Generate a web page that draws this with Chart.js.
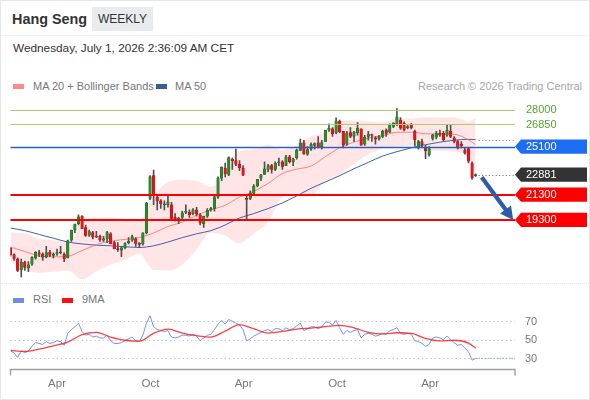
<!DOCTYPE html>
<html>
<head>
<meta charset="utf-8">
<script src="https://cdn.jsdelivr.net/npm/chart.js@4.4.1/dist/chart.umd.min.js"></script>
<style>
html,body{margin:0;padding:0;background:#fff;}
body{width:590px;height:400px;position:relative;overflow:hidden;font-family:"Liberation Sans",Arial,sans-serif;}
#frame{position:absolute;left:0;top:0;width:588px;height:398px;border:1px solid #e4e7ea;}
#hdrline{position:absolute;left:1px;top:35px;width:588px;height:0;border-top:1px solid #f1f2f4;}
#sep{position:absolute;left:1px;top:283px;width:588px;height:0;border-top:1px dotted #e6e6e6;}
#title{position:absolute;left:12px;top:12px;font-size:14.4px;line-height:14.4px;font-weight:bold;color:#333;}
#badge{position:absolute;left:92px;top:7px;width:61px;height:24px;background:#e9ebee;color:#333;font-size:12px;line-height:24px;text-align:center;}
#date{position:absolute;left:13px;top:43px;font-size:11.8px;line-height:11.8px;color:#333;}
.leg{position:absolute;font-size:11px;line-height:11px;color:#777;white-space:nowrap;}
.sw{position:absolute;width:11px;height:4.5px;}
canvas{position:absolute;left:0;}
</style>
</head>
<body>
<div id="frame"></div>
<div id="hdrline"></div>
<div id="sep"></div>
<div id="title">Hang Seng</div>
<div id="badge">WEEKLY</div>
<div id="date">Wednesday, July 1, 2026 2:36:09 AM CET</div>

<div class="sw" style="left:13px;top:84px;background:#ff8a8a;"></div>
<div class="leg" style="left:33px;top:81px;">MA 20 + Bollinger Bands</div>
<div class="sw" style="left:156px;top:84px;background:#3a5c9c;"></div>
<div class="leg" style="left:175px;top:81px;">MA 50</div>
<div class="leg" style="right:8px;top:81px;color:#a8a8a8;">Research © 2026 Trading Central</div>

<div class="sw" style="left:13px;top:298px;background:#6f8ee8;"></div>
<div class="leg" style="left:33px;top:294px;">RSI</div>
<div class="sw" style="left:62px;top:298px;background:#ff1010;"></div>
<div class="leg" style="left:82px;top:294px;">9MA</div>

<canvas id="main" width="590" height="300" style="top:0;"></canvas>
<canvas id="rsi" width="590" height="100" style="top:300px;"></canvas>

<script>
// ---- Weekly candles (week index 0 = week of 2024-01-01) ----
const OPEN = [17047,16560,16200,15350,15950,15500,15800,16300,16700,16600,
16400,16750,16500,16600,16700,16600,16300,17700,18500,19000,
19600,18700,18100,18300,17950,18000,17700,17800,18200,17500,
17000,16900,17100,17500,17700,17800,17400,17400,18300,21000,
22800,21100,20800,20500,20500,20500,19500,19200,19500,19900,
19900,19800,20100,19700,19000,19600,20100,20200,21100,22600,
23400,22900,24100,24000,23700,23400,21000,21000,21400,22000,
22600,22900,23300,23600,23300,23800,23900,23600,24300,23900,
24200,24800,25400,24500,24900,25200,25400,25100,25500,26400,
26500,26200,27100,26300,25300,26200,25900,26200,26500,25300,
25900,26000,25800,25700,25900,26400,26250,26700,26850,27200,
26950,26600,26800,26300,25000,25500,25000,24450,25750,25850,
26150,26150,26000,26300,25800,25500,25300,24850,24950,23800,
22800];
const HIGH = [17123,16620,16300,16200,16050,16000,16400,16800,16900,16700,
17200,16900,16700,17000,17200,16700,17700,18500,18970,19700,
19650,18900,18500,18400,18400,18100,18000,18400,18300,17600,
17500,17200,17500,17900,18100,17900,17500,18300,20700,22800,
23241,21200,20900,20800,21300,20700,19800,19500,20000,20500,
20100,20200,20300,19800,19600,20200,20300,21200,22700,23500,
23800,24300,24200,24900,24000,23600,21300,21600,22100,22500,
22900,23900,23700,23700,23900,24200,24000,24400,24400,24200,
24900,25700,25600,25100,25400,25400,25900,25600,26400,26900,
26600,27381,27200,26300,26300,26600,26300,27000,26500,26000,
26300,26100,25900,26000,26400,26500,26900,27000,28100,27400,
27050,26800,26950,26400,25600,25700,25200,25100,26100,26300,
26400,26300,26800,26850,25900,25600,25500,25000,25000,23900,
22950];
const LOW = [16440,16100,15200,14794,15300,15200,15700,16200,16400,16100,
16300,16400,16300,16500,16600,16000,16300,17600,18300,18900,
18600,18000,18000,17800,17900,17600,17600,17500,17400,17000,
16800,16400,17000,17400,17600,17200,17100,17300,18200,20900,
20500,20100,20200,20100,20300,19300,19200,19000,19400,19800,
19500,19700,19600,18900,18700,19500,20000,20000,21000,22400,
22700,22800,23300,23600,23200,22800,19260,20900,21300,21900,
22400,22900,23100,23000,23200,23600,23300,23600,23800,23600,
24100,24800,24500,24400,24800,24900,25000,24900,25500,26300,
25900,26100,26200,25000,25200,25800,25500,26000,25200,25200,
25600,25500,25300,25600,25800,25900,26200,26600,26750,26450,
26350,26500,26500,25150,24900,25100,24150,24350,25600,25700,
25900,25550,25900,25800,25400,24900,25000,24500,23800,22500,
22750];
const CLOSE = [16535,16244,15308,15952,15533,15746,16340,16726,16589,16353,
16721,16499,16541,16724,16721,16224,17651,18476,18963,19553,
18609,18079,18367,17942,18028,17719,17799,18293,17417,17021,
16946,17090,17430,17612,17989,17444,17369,18258,20632,22737,
21252,20804,20590,20506,20728,19426,19230,19424,19866,19971,
19720,20090,19760,19064,19584,20066,20225,21133,22620,23478,
22941,24231,23960,23689,23426,22849,20915,21395,21980,22504,
22867,23345,23601,23290,23792,23892,23530,24284,23916,24139,
24826,25388,24507,24859,25270,25339,25077,25418,26388,26545,
26128,27141,26290,25247,26160,25907,26242,26572,25220,25858,
26085,25976,25690,25900,26300,26150,26850,26950,27450,26550,
26420,26650,26600,25650,25500,25250,24750,24950,26020,26150,
26000,25650,26400,25900,25500,25000,25150,24600,23950,22650,
22881];

// ---- Indicator readings, sampled at these week indices ----
const SAMPLE_WEEKS = [0,4,8,12,16,20,24,28,32,36,40,44,48,52,56,60,64,68,72,76,80,84,88,92,96,100,104,108,112,116,120,124,128,130];
const MA20 = [17150,16800,16450,16380,16420,16870,17340,17630,17750,17900,18270,18780,19120,19670,20100,20460,21100,21550,22190,22970,23320,23560,24310,25000,25450,25780,25970,26230,26240,26120,26090,26070,25630,25260];
const BB_UPPER = [18300,18250,17780,17700,17550,19150,19450,19490,19380,19210,21210,22270,22480,22380,21920,22870,24740,24890,25230,24840,25250,25920,26260,27140,27170,27090,27000,27345,27305,27415,27405,27415,27090,27400];
const BB_LOWER = [16000,15350,15120,15200,15300,14600,15240,15780,16130,16600,15330,15300,15760,16960,18275,18055,17450,18220,19160,21100,21390,21190,22370,22860,23740,24470,24950,25120,25170,24825,24770,24720,24180,23120];
const MA50 = [18650,18450,18150,17850,17550,17400,17300,17250,17180,17120,17250,17550,17900,18200,18450,18900,19450,19800,20200,20650,21200,21800,22300,22800,23350,23850,24350,24700,25000,25250,25450,25600,25680,25650];

// ---- RSI (weekly) and its 9-period MA ----
const RSI = [38,36,31,38,36,38,43,47,46,45,
48,46,47,49,48,44,57,61,64,68,
59,55,56,53,54,52,52,55,49,46,
46,47,49,51,53,49,48,55,68,76,
64,61,60,59,60,53,52,53,55,55,
54,56,54,49,52,55,56,61,67,71,
67,72,70,68,66,61,49,51,54,56,
58,60,61,59,62,62,60,63,61,62,
65,68,60,62,64,64,62,64,69,69,
66,71,63,56,60,58,60,61,52,56,
57,56,54,55,57,56,60,61,63,57,
56,57,56,49,48,46,43,45,52,53,
52,50,54,50,47,44,45,41,37,28,
30];
const RSI_MA9 = [38.5,37.5,40,43.5,47.5,55.5,58,53,49.5,48.5,57,61.5,57.3,54.5,53,59.3,66.5,62,57.3,59,61.5,62.7,64.2,65.7,63,58,56.3,57.6,57,51.5,48.8,49.5,46.5,41];

// ---- Levels and labels ----
const RESISTANCES = [28000, 26850];
const PIVOT = 25100;
const SUPPORTS = [21300, 19300];
const LAST_PRICE = 22881;
const RSI_LEVELS = [70, 50, 30];
const START_DATE = '2024-01-01';
const TICK_DATES = ['2024-04-01','2024-10-01','2025-04-01','2025-10-01','2026-04-01'];
const TICK_LABELS = ['Apr','Oct','Apr','Oct','Apr'];

// ---------------------------------------------------------------
const FONT = '"Liberation Sans", Arial, sans-serif';
function weekIndex(d){
  const p = s => { const [y,m,dd] = s.split('-').map(Number); return Date.UTC(y, m-1, dd); };
  return (p(d) - p(START_DATE)) / (7*86400000);
}
const weeks = CLOSE.map((_, i) => i);
const sampled = arr => SAMPLE_WEEKS.map((w, k) => ({x: w, y: arr[k]}));
const GREEN = '#2e8b2e', GREEN_B = '#1f621f', RED = '#e8141c', RED_B = '#b00f14';
const X_MIN = 0, X_MAX = 141;
const lastI = CLOSE.length - 1;

const levelsPlugin = {
  id: 'levels',
  afterDatasetsDraw(chart){
    const {ctx, chartArea: a, scales: {x, y}} = chart;
    ctx.save();
    const hline = (v, color, w) => {
      const py = Math.round(y.getPixelForValue(v)) + (w % 2 ? 0.5 : 0);
      ctx.beginPath(); ctx.strokeStyle = color; ctx.lineWidth = w;
      ctx.moveTo(a.left, py); ctx.lineTo(a.right, py); ctx.stroke();
    };
    const dotted = (x0, v, color) => {
      const py = Math.round(y.getPixelForValue(v)) + 0.5;
      ctx.beginPath(); ctx.setLineDash([1.2, 2.2]); ctx.strokeStyle = color; ctx.lineWidth = 1;
      ctx.moveTo(x0, py); ctx.lineTo(a.right, py); ctx.stroke(); ctx.setLineDash([]);
    };
    RESISTANCES.forEach(v => hline(v, '#a6d06f', 1));
    hline(PIVOT, '#2c5fc4', 1.3);
    SUPPORTS.forEach(v => hline(v, '#ff0000', 2));
    const xl = x.getPixelForValue(lastI) + 3;
    dotted(xl, MA50[MA50.length-1], '#8a8a8a');
    dotted(xl, LAST_PRICE, '#777');

    // projection arrow towards the second support
    const x0 = x.getPixelForValue(lastI + 1.7), y0 = y.getPixelForValue(LAST_PRICE - 200);
    const x1 = x.getPixelForValue(lastI + 10.5), y1 = y.getPixelForValue(SUPPORTS[1]);
    const ang = Math.atan2(y1 - y0, x1 - x0), L = 13, W = 6.8;
    const cs = Math.cos(ang), sn = Math.sin(ang);
    ctx.strokeStyle = '#2d5ca8'; ctx.fillStyle = '#2d5ca8';
    ctx.lineWidth = 4.2; ctx.lineCap = 'butt';
    ctx.beginPath(); ctx.moveTo(x0, y0); ctx.lineTo(x1 - cs*(L-1), y1 - sn*(L-1)); ctx.stroke();
    ctx.beginPath();
    ctx.moveTo(x1, y1);
    ctx.lineTo(x1 - cs*L + sn*W, y1 - sn*L - cs*W);
    ctx.lineTo(x1 - cs*L - sn*W, y1 - sn*L + cs*W);
    ctx.closePath(); ctx.fill();

    // right side labels
    ctx.font = '11px ' + FONT; ctx.textBaseline = 'middle'; ctx.textAlign = 'left';
    const tx = a.right + 11;
    RESISTANCES.forEach(v => { ctx.fillStyle = '#5aa52c'; ctx.fillText(String(v), tx, y.getPixelForValue(v) + 0.5); });
    const tag = (v, color) => {
      const py = y.getPixelForValue(v), h = 7.2;
      ctx.fillStyle = color;
      ctx.beginPath();
      ctx.moveTo(a.right, py); ctx.lineTo(a.right + 6, py - h); ctx.lineTo(a.right + 72, py - h);
      ctx.lineTo(a.right + 72, py + h); ctx.lineTo(a.right + 6, py + h); ctx.closePath(); ctx.fill();
      ctx.fillStyle = '#fff'; ctx.fillText(String(v), tx, py + 0.5);
    };
    tag(PIVOT, '#1d6ef3');
    tag(LAST_PRICE, '#333333');
    SUPPORTS.forEach(v => tag(v, '#ff0000'));
    ctx.restore();
  }
};

new Chart(document.getElementById('main'), {
  type: 'bar',
  data: { datasets: [
    {type: 'line', data: sampled(BB_UPPER), borderColor: 'rgba(0,0,0,0)', borderWidth: 0, pointRadius: 0,
     fill: false, cubicInterpolationMode: 'monotone', order: 10},
    {type: 'line', data: sampled(BB_LOWER), borderColor: 'rgba(0,0,0,0)', borderWidth: 0, pointRadius: 0,
     fill: '-1', backgroundColor: 'rgba(255,0,0,0.1)', cubicInterpolationMode: 'monotone', order: 9},
    {type: 'line', data: sampled(MA50), borderColor: '#3b62ad', borderWidth: 1, pointRadius: 0,
     fill: false, cubicInterpolationMode: 'monotone', order: 6},
    {type: 'line', data: sampled(MA20), borderColor: 'rgba(255,95,95,0.75)', borderWidth: 1, pointRadius: 0,
     fill: false, cubicInterpolationMode: 'monotone', order: 5},
    {type: 'bar', data: weeks.map(i => ({x: i, y: [LOW[i], HIGH[i]]})), backgroundColor: '#505050',
     barThickness: 1, grouped: false, order: 2},
    {type: 'bar', data: weeks.map(i => ({x: i, y: [OPEN[i], CLOSE[i]]})),
     backgroundColor: c => CLOSE[c.dataIndex] >= OPEN[c.dataIndex] ? GREEN : RED,
     borderColor: c => CLOSE[c.dataIndex] >= OPEN[c.dataIndex] ? GREEN_B : RED_B,
     borderWidth: 0.5, borderSkipped: false, barThickness: 2.6, minBarLength: 1, grouped: false, order: 1}
  ]},
  options: {
    responsive: false, animation: false, events: [],
    layout: {padding: {left: 10.5, right: 75, top: 97.3, bottom: 13.1}},
    scales: {
      x: {type: 'linear', min: X_MIN, max: X_MAX, display: false, offset: false},
      y: {type: 'linear', min: 14000, max: 29000, display: false}
    },
    plugins: {legend: {display: false}, tooltip: {enabled: false}}
  },
  plugins: [levelsPlugin]
});

const rsiPlugin = {
  id: 'rsiDeco',
  beforeDatasetsDraw(chart){
    const {ctx, chartArea: a, scales: {y}} = chart;
    ctx.save();
    ctx.strokeStyle = '#bdbdbd'; ctx.lineWidth = 1; ctx.setLineDash([1.2, 3]);
    RSI_LEVELS.forEach(v => {
      const py = Math.round(y.getPixelForValue(v)) + 0.5;
      ctx.beginPath(); ctx.moveTo(a.left, py); ctx.lineTo(a.right, py); ctx.stroke();
    });
    ctx.restore();
  },
  afterDatasetsDraw(chart){
    const {ctx, chartArea: a, scales: {x, y}} = chart;
    ctx.save();
    // dotted extension of the last RSI value
    const py = y.getPixelForValue(RSI[lastI]);
    ctx.strokeStyle = 'rgba(100,135,230,0.9)'; ctx.lineWidth = 1; ctx.setLineDash([1.2, 1.8]);
    ctx.beginPath(); ctx.moveTo(x.getPixelForValue(lastI), py); ctx.lineTo(a.right, py); ctx.stroke();
    ctx.setLineDash([]);
    // level labels
    ctx.font = '11px ' + FONT; ctx.fillStyle = '#777'; ctx.textBaseline = 'middle'; ctx.textAlign = 'left';
    RSI_LEVELS.forEach(v => ctx.fillText(String(v), a.right + 10, y.getPixelForValue(v) + 0.5));
    // x axis
    const by = Math.round(a.bottom) + 0.5;
    ctx.strokeStyle = '#a0a0a0'; ctx.lineWidth = 1.4;
    ctx.beginPath();
    ctx.moveTo(a.left, by + 6); ctx.lineTo(a.left, by); ctx.lineTo(a.right, by); ctx.lineTo(a.right, by + 6);
    ctx.stroke();
    ctx.font = '11.5px ' + FONT; ctx.fillStyle = '#777'; ctx.textAlign = 'center';
    TICK_DATES.forEach((d, k) => ctx.fillText(TICK_LABELS[k], x.getPixelForValue(weekIndex(d)), by + 14.5));
    ctx.restore();
  }
};

new Chart(document.getElementById('rsi'), {
  type: 'line',
  data: { datasets: [
    {data: weeks.map(i => ({x: i, y: RSI[i]})), borderColor: 'rgba(100,135,230,0.9)', borderWidth: 1,
     pointRadius: 0, fill: false, tension: 0, order: 2},
    {data: sampled(RSI_MA9), borderColor: 'rgba(255,30,30,0.85)', borderWidth: 1.3, pointRadius: 0,
     fill: false, cubicInterpolationMode: 'monotone', order: 1}
  ]},
  options: {
    responsive: false, animation: false, events: [],
    layout: {padding: {left: 10.5, right: 75, top: 8.35, bottom: 30.6}},
    scales: {
      x: {type: 'linear', min: X_MIN, max: X_MAX, display: false},
      y: {type: 'linear', min: 18, max: 84, display: false}
    },
    plugins: {legend: {display: false}, tooltip: {enabled: false}}
  },
  plugins: [rsiPlugin]
});
</script>
</body>
</html>
